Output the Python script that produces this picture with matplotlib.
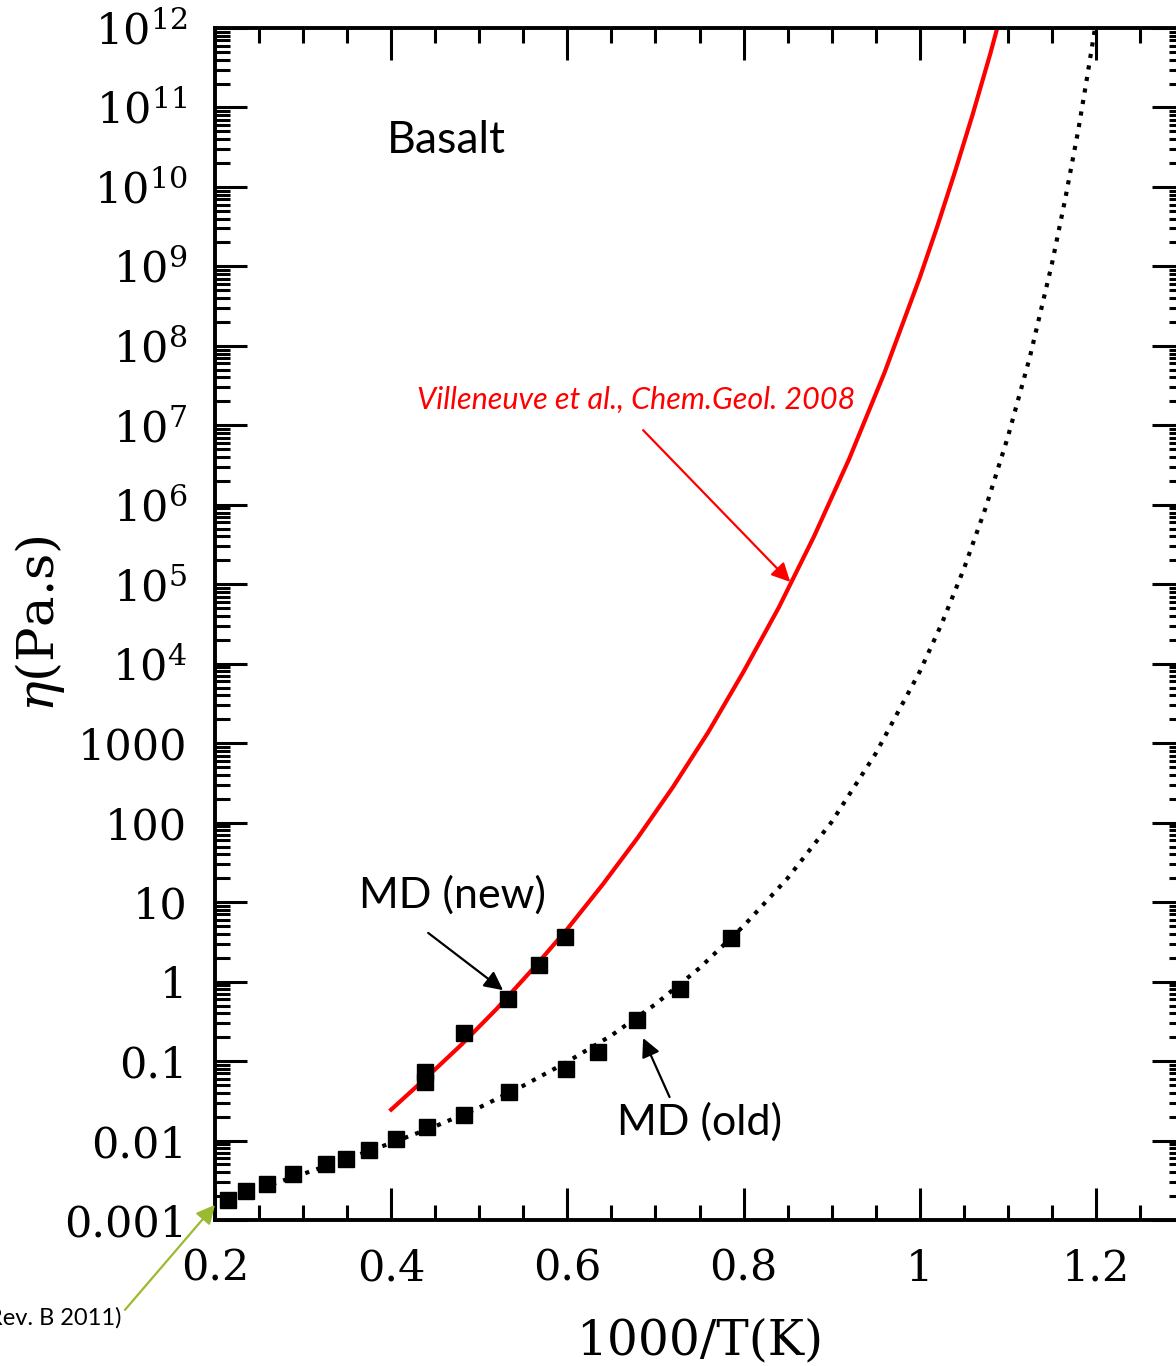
import numpy as np
import matplotlib.pyplot as plt
import matplotlib.ticker as ticker

plt.rcParams['font.family'] = ['DejaVu Serif']
plt.rcParams['mathtext.fontset'] = 'dejavuserif'

# MD squares (old runs)
x_old = [0.215, 0.235, 0.259, 0.289, 0.326, 0.349, 0.375, 0.405,
         0.441, 0.483, 0.534, 0.598, 0.635, 0.679, 0.728, 0.786]
eta_old = [0.0018, 0.0023, 0.0028, 0.0038, 0.0051, 0.0059, 0.0076, 0.0105,
           0.0148, 0.021, 0.041, 0.080, 0.13, 0.33, 0.81, 3.5]

# MD squares (new runs)
x_new = [0.438, 0.438, 0.483, 0.533, 0.568, 0.597]
eta_new = [0.073, 0.055, 0.225, 0.60, 1.62, 3.64]

# Villeneuve et al. 2008 curve
x_vil = [0.40, 0.44, 0.48, 0.52, 0.56, 0.60, 0.64, 0.68, 0.72, 0.76, 0.80,
         0.84, 0.88, 0.92, 0.96, 1.00, 1.02, 1.04, 1.06, 1.08, 1.088]
eta_vil = [0.0245, 0.062, 0.162, 0.457, 1.41, 4.6, 16.6, 65, 282, 1380, 7940,
           5.1e4, 4.0e5, 3.8e6, 4.6e7, 7.2e8, 3.2e9, 1.55e10, 8.1e10, 4.7e11, 1.0e12]

# dotted fit through the old MD points
x_fit = [0.215, 0.25, 0.30, 0.35, 0.40, 0.45, 0.50, 0.55, 0.60, 0.65, 0.70,
         0.75, 0.80, 0.85, 0.90, 0.95, 1.00, 1.025, 1.05, 1.075, 1.10, 1.125,
         1.15, 1.165, 1.18, 1.19, 1.199]
eta_fit = [0.00178, 0.0025, 0.0038, 0.0059, 0.0093, 0.0151, 0.026, 0.049,
           0.098, 0.21, 0.52, 1.48, 5.0, 20, 102, 741, 7940, 3.2e4, 1.55e5,
           9.3e5, 7.1e6, 7.2e7, 1.07e9, 6.9e9, 5.2e10, 2.4e11, 1.0e12]

xtick_vals = [0.2, 0.4, 0.6, 0.8, 1.0, 1.2]
xtick_labels = ['0.2', '0.4', '0.6', '0.8', '1', '1.2']
ytick_vals = [10.0 ** k for k in range(-3, 13)]
ytick_labels = ['0.001', '0.01', '0.1', '1', '10', '100', '1000',
                r'$\mathdefault{10^4}$', r'$\mathdefault{10^5}$', r'$\mathdefault{10^6}$',
                r'$\mathdefault{10^7}$', r'$\mathdefault{10^8}$', r'$\mathdefault{10^9}$',
                r'$\mathdefault{10^{10}}$', r'$\mathdefault{10^{11}}$', r'$\mathdefault{10^{12}}$']

W, H = 1176, 1366
fig = plt.figure(figsize=(W / 100, H / 100), dpi=100)
ax = fig.add_axes([215 / W, (H - 1220) / H, (1184 - 215) / W, (1220 - 28) / H])

ax.plot(x_fit, eta_fit, color='black', lw=3, linestyle=(0, (1, 1.8)), dash_capstyle='butt')
ax.plot(x_vil, eta_vil, color='red', lw=3)
ax.plot(x_old, eta_old, 's', color='black', ms=11)
ax.plot(x_new, eta_new, 's', color='black', ms=11)

ax.set_yscale('log')
ax.set_xlim(0.2, 1.3)
ax.set_ylim(1e-3, 1e12)

ax.set_xticks(xtick_vals, xtick_labels)
ax.xaxis.set_minor_locator(ticker.MultipleLocator(0.05))
ax.set_yticks(ytick_vals, ytick_labels)
ax.yaxis.set_minor_locator(ticker.LogLocator(base=10, subs=np.arange(2, 10), numticks=200))
ax.yaxis.set_minor_formatter(ticker.NullFormatter())

ax.tick_params(which='both', direction='in', top=True, right=True, width=2.2, labelsize=31)
ax.tick_params(which='major', length=23)
ax.tick_params(which='minor', length=11)
ax.tick_params(axis='x', which='major', pad=20)
ax.tick_params(axis='y', which='major', pad=20)
for sp in ax.spines.values():
    sp.set_linewidth(2.8)

ax.set_xlabel('1000/T(K)', fontsize=35, labelpad=20)
ax.set_ylabel(r'$\eta$(Pa.s)', fontsize=37, labelpad=-2)

sans = 'Lato'
ax.text(0.395, 10 ** 10.59, 'Basalt', fontsize=32, family=sans, va='center', ha='left')
ax.text(0.469, 12.3, 'MD (new)', fontsize=31, family=sans, va='center', ha='center')
ax.text(0.7505, 0.0171, 'MD (old)', fontsize=31, family=sans, va='center', ha='center')
ax.text(0.678, 2.08e7, 'Villeneuve et al., Chem.Geol. 2008', fontsize=22, family=sans,
        style='italic', color='red', va='center', ha='center')

ax.annotate('', xy=(0.853, 1.07e5), xytext=(0.686, 8.7e6),
            arrowprops=dict(arrowstyle='-|>', color='red', lw=1.6, mutation_scale=28,
                            shrinkA=0, shrinkB=0))
ax.annotate('', xy=(0.527, 0.78), xytext=(0.442, 4.1),
            arrowprops=dict(arrowstyle='-|>', color='black', lw=1.6, mutation_scale=28,
                            shrinkA=0, shrinkB=0))
ax.annotate('', xy=(0.686, 0.195), xytext=(0.716, 0.0353),
            arrowprops=dict(arrowstyle='-|>', color='black', lw=1.6, mutation_scale=28,
                            shrinkA=0, shrinkB=0))
ax.annotate('', xy=(0.2, 1.55e-3), xytext=(0.0978, 7.4e-5), annotation_clip=False,
            arrowprops=dict(arrowstyle='-|>', color='#9aba30', lw=1.6, mutation_scale=28,
                            shrinkA=0, shrinkB=0))

fig.text(122 / W, 1 - 1318 / H, 'Rev. B 2011)', fontsize=17, family=sans,
         ha='right', va='center')

fig.savefig('out.png', dpi=100)
